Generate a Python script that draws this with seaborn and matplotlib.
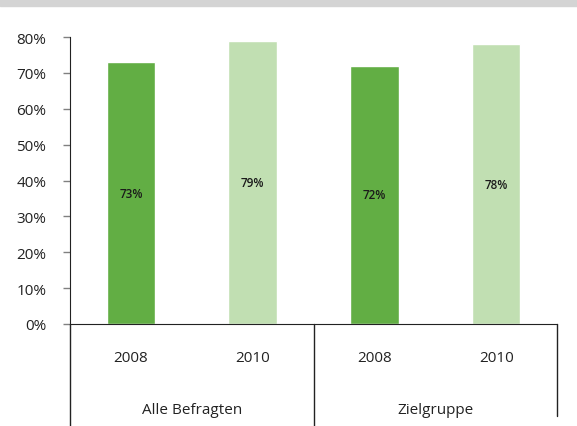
import pandas as pd
import matplotlib.pyplot as plt
import seaborn as sns

# Data
groups = ['Alle Befragten', 'Zielgruppe']
years = ['2008', '2010', '2008', '2010']
values = [0.73, 0.79, 0.72, 0.78]
bar_labels = ['73%', '79%', '72%', '78%']
colors = ['#62ae44', '#c1dfb2', '#62ae44', '#c1dfb2']

sns.set_style('white')
plt.rcParams['font.family'] = ['Open Sans', 'DejaVu Sans']

df = pd.DataFrame({'key': ['a08', 'a10', 'z08', 'z10'], 'value': values})

fig = plt.figure(figsize=(5.77, 4.27), dpi=100)
ax = fig.add_axes([70 / 577, 102 / 427, 487 / 577, 287 / 427])

sns.barplot(data=df, x='key', y='value', hue='key', palette=colors,
            width=0.4, legend=False, ax=ax, saturation=1)

for cont, lab in zip(ax.containers, bar_labels):
    ax.bar_label(cont, labels=[lab], label_type='center', fontsize=8.5,
                 fontweight='semibold', color='#1a1a1a')

ax.set_ylim(0, 0.8)
ax.set_xlim(-0.5, 3.5)
ax.set_yticks([i / 10 for i in range(9)])
ax.set_yticklabels([f'{i * 10}%' for i in range(9)], fontsize=11, color='#222222')
ax.tick_params(axis='y', length=5, width=1, color='#808080', pad=12, left=True)
ax.set_xticks([])
ax.set_xlabel('')
ax.set_ylabel('')

for s in ['top', 'right']:
    ax.spines[s].set_visible(False)
ax.spines['left'].set_color('#222222')
ax.spines['bottom'].set_color('#222222')

# category axis below the plot
tr = ax.get_xaxis_transform()
for i, y in enumerate(years):
    ax.text(i, -0.118, y, ha='center', va='center', fontsize=11,
            color='#222222', transform=tr)
for j, g in enumerate(groups):
    ax.text(j * 2 + 0.5, -0.297, g, ha='center', va='center', fontsize=11,
            color='#222222', transform=tr)

ax.plot([-0.5, -0.5], [0, -0.36], color='#222222', lw=1, transform=tr, clip_on=False)
ax.plot([1.5, 1.5], [0, -0.36], color='#222222', lw=1, transform=tr, clip_on=False)
ax.plot([3.5, 3.5], [0, -0.32], color='#222222', lw=1, transform=tr, clip_on=False)

# gray band at the top
fig.patches.append(plt.Rectangle((0, 1 - 7 / 427), 1, 7 / 427, transform=fig.transFigure,
                                 color='#d4d4d4', zorder=0))

fig.savefig('out.png', dpi=100)
